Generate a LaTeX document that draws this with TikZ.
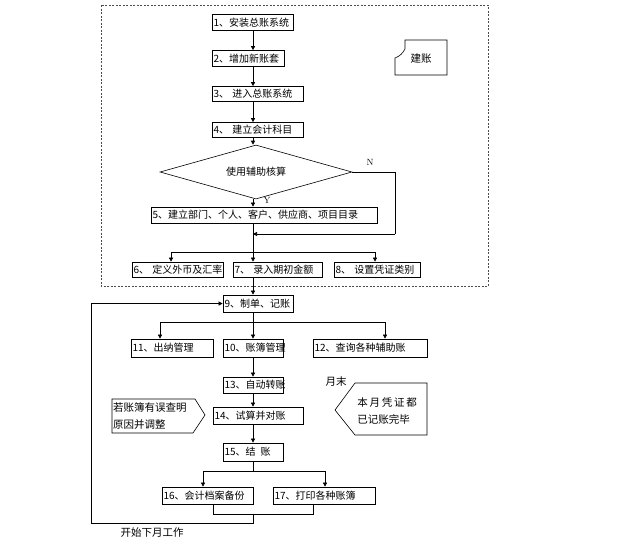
\documentclass[tikz,border=0pt]{standalone}
\usepackage{fontspec}
\newfontfamily\cjk{Noto Sans CJK SC}
\usetikzlibrary{arrows.meta,shapes.geometric}
\begin{document}
\begin{tikzpicture}[x=1pt,y=-1pt,
	stepbox/.style={draw,line width=0.7pt,inner xsep=1.5pt,inner ysep=0pt,minimum height=16pt,align=left,font=\cjk\fontsize{10}{12}\selectfont},
	arr/.style={-{Triangle[length=4pt,width=4pt]},line width=0.6pt},
	ln/.style={line width=0.6pt},
	txt/.style={font=\cjk\fontsize{10.5}{17}\selectfont,inner sep=0pt}]
	\useasboundingbox (0,0) rectangle (617,547);
	\draw[black!70,line width=0.6pt,dash pattern=on 2pt off 1.5pt] (101,5) rectangle (488,286);
	\coordinate (spine) at (253,0);

	\node[stepbox,text width=78pt] (b1) at (252.5,22.5) {1、安装总账系统};
	\node[stepbox,text width=69pt] (b2) at (248,58.5) {2、增加新账套};
	\node[stepbox,text width=88pt,minimum height=15pt] (b3) at (257.5,94) {3、~进入总账系统};
	\node[stepbox,text width=88pt,minimum height=15pt] (b4) at (257.5,130) {4、~建立会计科目};
	\node[draw,shape=diamond,aspect=3.6,line width=0.6pt,minimum width=192pt,minimum height=54pt,inner sep=0pt,font=\cjk\fontsize{10}{12}\selectfont] (dia) at (256,172) {使用辅助核算};
	\node[stepbox,text width=223pt] (b5) at (264,215) {5、建立部门、个人、客户、供应商、项目目录};
	\node[stepbox,text width=88pt,minimum height=15pt] (b6) at (177.5,269.5) {6、~定义外币及汇率};
	\node[stepbox,text width=86pt,minimum height=15pt] (b7) at (277.5,269.5) {7、~录入期初金额};
	\node[stepbox,text width=83pt,minimum height=15pt] (b8) at (377,269.5) {8、~设置凭证类别};

	\draw[arr] (b1.south -| spine) -- (b2.north -| spine);
	\draw[arr] (b2.south -| spine) -- (b3.north -| spine);
	\draw[arr] (b3.south -| spine) -- (b4.north -| spine);
	\draw[arr] (b4.south -| spine) -- (dia.north -| spine);
	\draw[arr] (dia.south -| spine) -- (b5.north -| spine);
	\node[inner sep=0pt,font=\fontsize{9}{10}\selectfont] (yes) at (267,200) {Y};
	\node[inner sep=0pt,font=\fontsize{9}{10}\selectfont] (no) at (370,162) {N};
	\coordinate (nturn) at (395,234);
	\coordinate (merge) at (253,234);
	\draw[ln] (dia.east) -| (nturn);
	\draw[arr] (nturn) -- (merge);
	\coordinate (s1l) at (171,252);
	\coordinate (s1m) at (253,252);
	\coordinate (s1r) at (375,252);
	\draw[ln] (b5.south -| spine) -- (s1m);
	\draw[ln] (s1l) -- (s1r);
	\draw[arr] (s1l) -- (s1l |- b6.north);
	\draw[arr] (s1m) -- (s1m |- b7.north);
	\draw[arr] (s1r) -- (s1r |- b8.north);

	\node[stepbox,text width=67pt,minimum height=17pt] (b9) at (258,303.5) {9、制单、记账};
	\node[stepbox,text width=79pt,minimum height=18pt] (b11) at (172,348) {11、出纳管理};
	\node[stepbox,text width=57pt,minimum height=18pt] (b10) at (253,348) {10、账簿管理};
	\node[stepbox,text width=111pt,minimum height=18pt] (b12) at (370,348) {12、查询各种辅助账};
	\node[stepbox,text width=57pt] (b13) at (253,385) {13、自动转账};
	\node[stepbox,text width=87pt,minimum height=17pt] (b14) at (258,415.5) {14、试算并对账};
	\node[stepbox,text width=57pt,minimum height=18pt] (b15) at (253,452) {15、结\enspace 账};
	\node[stepbox,text width=88pt,minimum height=17pt] (b16) at (207.5,495.5) {16、会计档案备份};
	\node[stepbox,text width=99pt,minimum height=17pt] (b17) at (324,495.5) {17、打印各种账簿};

	\draw[arr] (b7.south -| spine) -- (b9.north -| spine);
	\coordinate (s2l) at (160,322);
	\coordinate (s2m) at (253,322);
	\coordinate (s2r) at (385,322);
	\draw[ln] (b9.south -| spine) -- (s2m);
	\draw[ln] (s2l) -- (s2r);
	\draw[arr] (s2l) -- (s2l |- b11.north);
	\draw[arr] (s2m) -- (s2m |- b10.north);
	\draw[arr] (s2r) -- (s2r |- b12.north);
	\draw[arr] (b10.south -| spine) -- (b13.north -| spine);
	\draw[arr] (b13.south -| spine) -- (b14.north -| spine);
	\draw[arr] (b14.south -| spine) -- (b15.north -| spine);
	\coordinate (s3l) at (203,471);
	\coordinate (s3m) at (253,471);
	\coordinate (s3r) at (325,471);
	\draw[ln] (b15.south -| spine) -- (s3m);
	\draw[ln] (s3l) -- (s3r);
	\draw[arr] (s3l) -- (s3l |- b16.north);
	\draw[arr] (s3r) -- (s3r |- b17.north);
	\coordinate (j16) at (213,514);
	\coordinate (j17) at (313,514);
	\coordinate (jm) at (253,514);
	\coordinate (back) at (91,523);
	\draw[ln] (j16 |- b16.south) -- (j16) -- (j17) -- (j17 |- b17.south);
	\draw[arr] (jm) -- (jm |- back) -- (back) |- (b9.west);
	\node[txt] (next) at (152,533) {开始下月工作};

	\draw[line width=0.6pt] (112,399) -- (195,399) -- (205,415) -- (193,433) -- (112,433) -- cycle;
	\node[txt,anchor=west,align=left] (err) at (113,416) {若账簿有误查明\\原因并调整};
	\draw[line width=0.6pt] (355,383) -- (427,383) -- (427,435) -- (355,435) -- (335,410) -- cycle;
	\node[txt,align=left] (done) at (387,411) {本\,月\,凭\,证\,都\\已记账完毕};
	\node[txt] (yuemo) at (336,382) {月末};

	\draw[line width=0.6pt] (405,40) -- (447,40) -- (447,75) -- (395,75) -- (395,58) to[bend right=20] (405,49) -- cycle;
	\node[txt] (jz) at (421,59) {建账};
\end{tikzpicture}
\end{document}
